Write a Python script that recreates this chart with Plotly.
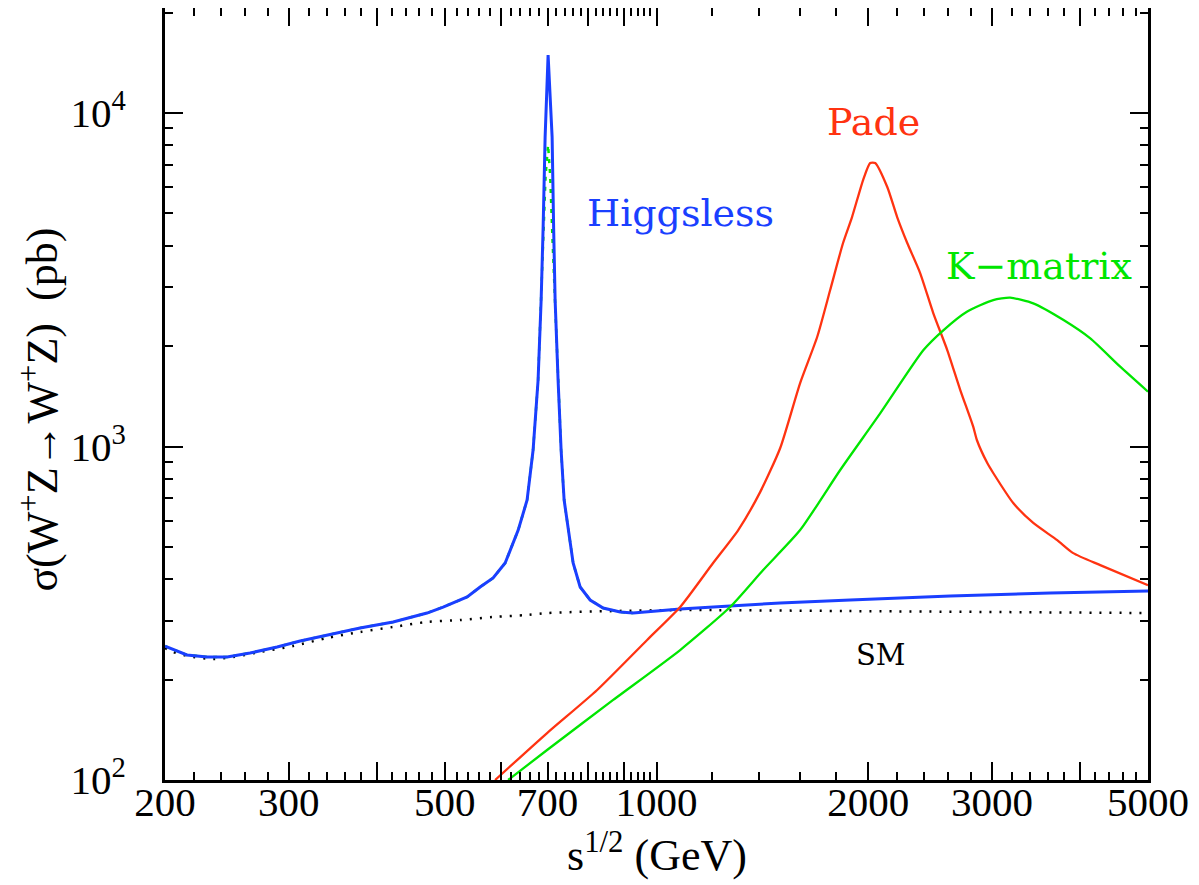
import math
import plotly.graph_objects as go

# ---------------- data ----------------
sm_energy = [200, 205.3, 219.2, 234.1, 250.0, 273.1, 304.2, 340.1, 378.8, 422.1, 471.7,
             525.6, 585.7, 654.6, 698.9, 867.8, 1080.5, 1867, 5000]
sm_sigma = [248.8, 242.0, 233.8, 230.6, 233.8, 242.0, 252.2, 266.6, 277.8, 287.6, 297.7,
            301.8, 308.2, 312.5, 316.7, 321.1, 323.3, 321.1, 316.7]

higgsless_energy = [200, 214.9, 229.5, 245.1, 264.2, 288.7, 311.3, 340.1, 378.8, 422.1,
                    471.7, 497.2, 537.9, 561.3, 585.7, 609.2, 625.3, 635.8, 654.6, 667.6,
                    678.6, 685.4, 689.9, 694.4, 701.2, 710.5, 714.0, 717.5, 724.5, 731.7,
                    739.0, 748.7, 761.1, 778.8, 804.7, 839.8, 887.8, 926.4, 1080.5, 1272.5,
                    1499.5, 1885.6, 2616, 3629, 5000]
higgsless_sigma = [252, 237.1, 233.8, 233.8, 240.4, 250.4, 261.0, 272.1, 285.6, 297.7,
                   316.7, 330.1, 353.8, 379.1, 403.4, 447.4, 513.6, 561.7, 691, 976,
                   1583, 2750, 4551, 8472, 14925, 8472, 4551, 2750, 1583, 976,
                   691, 561.7, 447.4, 379.1, 346.5, 327.9, 318.9, 316.7, 325.6, 332.4,
                   339.4, 346.5, 356.2, 363.7, 368.7]

# green dashed curve hidden under the Higgsless curve (lower resonance peak)
kres_energy = [200, 214.9, 229.5, 245.1, 264.2, 288.7, 311.3, 340.1, 378.8, 422.1,
               471.7, 497.2, 537.9, 561.3, 585.7, 609.2, 625.3, 635.8, 654.6, 667.6,
               678.6, 685.4, 690.5, 695.5, 701.2, 706.0, 711.0, 717.5, 724.5, 731.7,
               739.0, 748.7, 761.1, 778.8, 804.7, 839.8, 887.8, 926.4]
kres_sigma = [252, 237.1, 233.8, 233.8, 240.4, 250.4, 261.0, 272.1, 285.6, 297.7,
              316.7, 330.1, 353.8, 379.1, 403.4, 447.4, 513.6, 561.7, 691, 976,
              1583, 2750, 4300, 6500, 8020, 6500, 4300, 2750, 1583, 976,
              691, 561.7, 447.4, 379.1, 346.5, 327.9, 318.9, 316.7]

pade_energy = [589.5, 698.9, 823.4, 969.8, 1080.5, 1203.6, 1306.9, 1404, 1499.5, 1600.5,
               1692.3, 1766, 1842, 1897, 1967, 2013, 2046, 2129, 2199, 2273, 2371, 2475,
               2591, 2704, 2821, 2855, 2954, 3012, 3216, 3434, 3714, 3914, 4276, 5000]
pade_sigma = [100, 138.3, 186.2, 263, 330.1, 447.4, 561.7, 730, 990, 1550,
              2130, 2947, 4076, 4877, 6298, 7083, 7083, 6000, 4877, 4076, 3313, 2514,
              1947, 1477, 1147, 1046, 892, 833, 677, 590, 524, 479, 441, 384]

kmatrix_energy = [615.2, 698.9, 867.8, 1080.5, 1272.5, 1418, 1600.5, 1825, 2080, 2397,
                  2560, 2763, 3012, 3184, 3434, 3792, 4139, 4565, 5000]
kmatrix_sigma = [100, 123, 173.8, 245.3, 330.1, 426.3, 561.7, 850.4, 1257, 1947,
                 2235, 2537, 2750, 2794, 2688, 2395, 2110, 1735, 1460]

x_major = [200, 300, 400, 500, 600, 700, 800, 900, 1000, 2000, 3000, 4000, 5000]
x_major_text = ["200", "300", "", "500", "", "700", "", "", "1000", "2000", "3000", "", "5000"]
x_minor = ([v for v in range(220, 1000, 20) if v % 100 != 0] +
           [v for v in range(1200, 5000, 200) if v % 1000 != 0])
y_major = [100, 1000, 10000]
y_major_text = ["10<sup>2</sup>", "10<sup>3</sup>", "10<sup>4</sup>"]
y_minor = [m * d for d in (100, 1000, 10000) for m in range(2, 10)]

BLUE = "#1a3fff"
RED = "#ff3311"
GREEN = "#00e600"
SERIF = "Liberation Serif"
ANN = "DejaVu Serif"

fig = go.Figure()
fig.add_trace(go.Scatter(x=sm_energy, y=sm_sigma, mode="lines",
                         line=dict(color="black", width=2.5, dash="2px,8px",
                                   shape="spline", smoothing=0.8), name="SM"))
fig.add_trace(go.Scatter(x=kres_energy, y=kres_sigma, mode="lines",
                         line=dict(color=GREEN, width=2.5, dash="4px,6px"), name="K-res"))
fig.add_trace(go.Scatter(x=higgsless_energy, y=higgsless_sigma, mode="lines",
                         line=dict(color=BLUE, width=3), name="Higgsless"))
fig.add_trace(go.Scatter(x=pade_energy, y=pade_sigma, mode="lines",
                         line=dict(color=RED, width=2.3, shape="spline", smoothing=0.6),
                         name="Pade"))
fig.add_trace(go.Scatter(x=kmatrix_energy, y=kmatrix_sigma, mode="lines",
                         line=dict(color=GREEN, width=2.3, shape="spline", smoothing=0.6),
                         name="K-matrix"))

axis_common = dict(type="log", showgrid=False, zeroline=False, showline=True,
                   linecolor="black", linewidth=3, mirror="allticks", ticks="inside",
                   ticklen=18, tickwidth=2.2, tickcolor="black", automargin=False,
                   tickfont=dict(family=SERIF, size=41, color="black"))

fig.update_xaxes(range=[math.log10(200), math.log10(5000)], tickmode="array",
                 tickvals=x_major, ticktext=x_major_text, ticklabelstandoff=-16,
                 minor=dict(tickvals=x_minor, ticks="inside", ticklen=8, tickwidth=2,
                            tickcolor="black", showgrid=False),
                 **axis_common)
fig.update_yaxes(range=[2, 4.315], tickmode="array", tickvals=y_major, ticktext=y_major_text,
                 ticklabelstandoff=28,
                 minor=dict(tickvals=y_minor, ticks="inside", ticklen=8, tickwidth=2,
                            tickcolor="black", showgrid=False),
                 **axis_common)

annotations = [
    dict(x=math.log10(1080), y=math.log10(5012), text="Higgsless", font=dict(family=ANN, size=38, color=BLUE)),
    dict(x=math.log10(2033), y=math.log10(9397), text="Pade", font=dict(family=ANN, size=38, color=RED)),
    dict(x=math.log10(3503), y=math.log10(3477), text="K\u2212matrix", font=dict(family=ANN, size=38, color=GREEN)),
    dict(x=math.log10(2087), y=math.log10(237), text="SM", font=dict(family=ANN, size=29, color="black")),
]
for a in annotations:
    a.update(xref="x", yref="y", showarrow=False, xanchor="center", yanchor="middle")

annotations.append(dict(xref="paper", yref="paper", x=0.501, y=-0.094, showarrow=False,
                        xanchor="center", yanchor="middle",
                        text="s<sup>1/2</sup> (GeV)",
                        font=dict(family=SERIF, size=44, color="black")))
annotations.append(dict(xref="paper", yref="paper", x=-0.128, y=0.48, showarrow=False,
                        xanchor="center", yanchor="middle", textangle=-90,
                        text="\u03c3(W<sup>+</sup>Z\u2192W<sup>+</sup>Z)  (pb)",
                        font=dict(family=SERIF, size=44, color="black")))

fig.update_layout(width=1199, height=885, margin=dict(l=157, r=59, t=0, b=113),
                  paper_bgcolor="white", plot_bgcolor="white", showlegend=False,
                  annotations=annotations)

fig.write_html("out.html")
